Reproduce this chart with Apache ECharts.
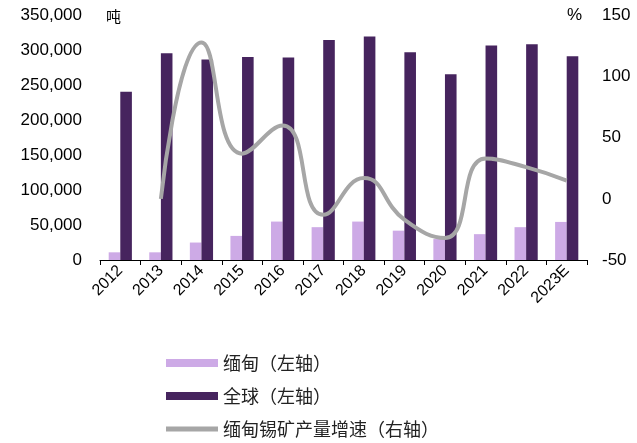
<!DOCTYPE html>
<html>
<head>
<meta charset="utf-8">
<script src="https://cdn.jsdelivr.net/npm/echarts@6/dist/echarts.min.js"></script>
<style>
  html, body { margin: 0; padding: 0; background: #fff; }
  #chart { width: 637px; height: 443px; }
</style>
</head>
<body>
<div id="chart"></div>
<script>
// 年份
const years = ['2012', '2013', '2014', '2015', '2016', '2017', '2018', '2019', '2020', '2021', '2022', '2023E'];
// 缅甸锡矿产量（吨）
const myanmar = [11000, 11000, 25000, 34500, 55000, 47000, 55000, 42000, 30000, 37000, 47000, 54500];
// 全球锡矿产量（吨）
const world = [241000, 296000, 287000, 290500, 290000, 315000, 320000, 297500, 266000, 307000, 309000, 291500];
// 缅甸锡矿产量增速（%）
const growth = [null, 0, 128, 37, 60, -13, 17, -17, -32, 33, 26, 15];

const chart = echarts.init(document.getElementById('chart'));

const font = 'Liberation Sans, Arial, sans-serif';
const cjk = 'Noto Sans CJK SC, sans-serif';

const option = {
  animation: false,
  grid: { left: 100, right: 50, top: 15.5, bottom: 183 },
  legend: {
    orient: 'vertical',
    left: 166,
    top: 353,
    padding: 0,
    itemWidth: 52,
    itemHeight: 8,
    itemGap: 13,
    textStyle: { fontFamily: cjk, fontSize: 18, lineHeight: 20, color: '#222' },
    data: [
      { name: '缅甸（左轴）', icon: 'rect' },
      { name: '全球（左轴）', icon: 'rect' },
      { name: '缅甸锡矿产量增速（右轴）', icon: 'path://M0,0 H52 V5 H0 Z' }
    ]
  },
  xAxis: {
    type: 'category',
    data: years,
    axisLine: { lineStyle: { color: '#000', width: 1 } },
    axisTick: { show: true, length: 5, lineStyle: { color: '#000' } },
    axisLabel: { rotate: 45, fontFamily: font, fontSize: 16, color: '#000', margin: 8 }
  },
  yAxis: [
    {
      type: 'value',
      min: 0,
      max: 350000,
      interval: 50000,
      name: '吨',
      nameLocation: 'end',
      nameGap: -8,
      nameTextStyle: { fontFamily: cjk, fontSize: 15, color: '#000', align: 'left', padding: [0, 0, 0, 6] },
      axisLine: { show: false },
      axisTick: { show: false },
      splitLine: { show: false },
      axisLabel: {
        fontFamily: font, fontSize: 17, color: '#000', margin: 18,
        formatter: v => v.toLocaleString('en-US')
      }
    },
    {
      type: 'value',
      min: -50,
      max: 150,
      interval: 50,
      name: '%',
      nameLocation: 'end',
      nameGap: -8,
      nameTextStyle: { fontFamily: font, fontSize: 17, color: '#000', align: 'right', padding: [0, 5, 0, 0] },
      axisLine: { show: false },
      axisTick: { show: false },
      splitLine: { show: false },
      axisLabel: { fontFamily: font, fontSize: 17, color: '#000', margin: 15 }
    }
  ],
  series: [
    {
      name: '缅甸（左轴）',
      type: 'bar',
      data: myanmar,
      barWidth: 11.6,
      barGap: '0%',
      itemStyle: { color: '#CDAAE6' }
    },
    {
      name: '全球（左轴）',
      type: 'bar',
      data: world,
      barWidth: 11.6,
      barGap: '0%',
      itemStyle: { color: '#46245E' }
    },
    {
      name: '缅甸锡矿产量增速（右轴）',
      type: 'line',
      yAxisIndex: 1,
      data: growth,
      smooth: 0.5,
      symbol: 'none',
      lineStyle: { color: '#A6A6A6', width: 4 },
      itemStyle: { color: '#A6A6A6' }
    }
  ]
};

chart.setOption(option);
</script>
</body>
</html>
